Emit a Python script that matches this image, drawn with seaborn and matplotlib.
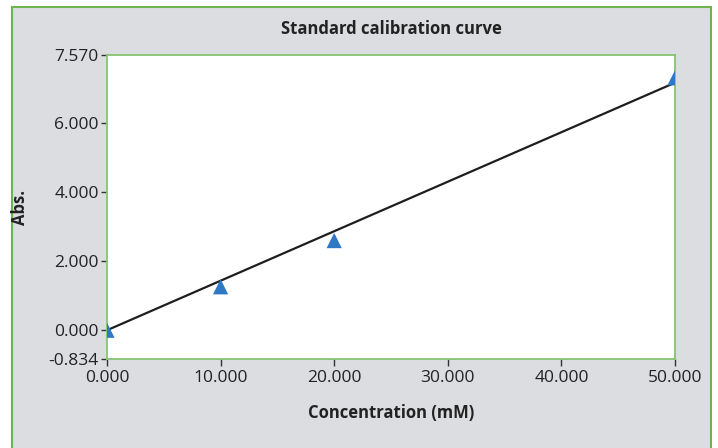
import numpy as np
import pandas as pd
import matplotlib
matplotlib.use("Agg")
import matplotlib.pyplot as plt
from matplotlib.patches import Rectangle
import seaborn as sns

# Calibration standards
concentration = [0.0, 10.0, 20.0, 50.0]          # mM
absorbance = [0.0, 1.26, 2.60, 7.32]

x_ticks = [0, 10, 20, 30, 40, 50]
x_tick_labels = ["0.000", "10.000", "20.000", "30.000", "40.000", "50.000"]
y_ticks = [-0.834, 0, 2, 4, 6, 7.98]
y_tick_labels = ["-0.834", "0.000", "2.000", "4.000", "6.000", "7.570"]

sns.set_theme(style="white")
plt.rcParams["font.family"] = ["Liberation Sans Narrow", "Open Sans", "DejaVu Sans"]

df = pd.DataFrame({"Concentration (mM)": concentration, "Abs.": absorbance})

# Least-squares line through the origin
xs = np.asarray(concentration)
ys = np.asarray(absorbance)
slope = float(np.dot(xs, ys) / np.dot(xs, xs))
fit = pd.DataFrame({"x": [0.0, 50.0]})
fit["y"] = slope * fit["x"]

W, H = 718, 448
fig = plt.figure(figsize=(W / 100, H / 100), dpi=100)
fig.patch.set_facecolor("white")

# Grey panel with green frame
panel = Rectangle((12 / W, -0.05), (711 - 12) / W, (438 + 25) / H,
                  transform=fig.transFigure, facecolor="#dcdde0",
                  edgecolor="#6cb452", linewidth=1.5, zorder=-10)
fig.add_artist(panel)

ax = fig.add_axes([107 / W, (H - 359) / H, (675 - 107) / W, (359 - 55) / H])
ax.set_zorder(1)
ax.set_facecolor("white")

sns.lineplot(data=fit, x="x", y="y", ax=ax, color="#1e1e1e", linewidth=1.6, zorder=2)
sns.scatterplot(data=df, x="Concentration (mM)", y="Abs.", ax=ax, marker="^",
                s=120, color="#2f78c4", edgecolor="none", zorder=3)

ax.set_xlim(0, 50)
ax.set_ylim(-0.834, 7.98)
ax.set_xticks(x_ticks)
ax.set_xticklabels(x_tick_labels)
ax.set_yticks(y_ticks)
ax.set_yticklabels(y_tick_labels)

for sp in ax.spines.values():
    sp.set_visible(True)
    sp.set_color("#86c473")
    sp.set_linewidth(1.3)

ax.tick_params(axis="both", which="major", direction="out", length=4, width=1,
               color="#333333", labelsize=12.5, labelcolor="#222222", pad=2,
               left=True, bottom=True)
ax.tick_params(axis="x", length=5, pad=3)

ax.set_xlabel("Concentration (mM)", fontsize=12, fontweight="bold",
              color="#222222", labelpad=13)
ax.set_ylabel("Abs.", fontsize=12, fontweight="bold", color="#222222", labelpad=14)
ax.set_title("Standard calibration curve", fontsize=12, fontweight="bold",
             color="#222222", pad=15)

fig.savefig("out.png", dpi=100)
